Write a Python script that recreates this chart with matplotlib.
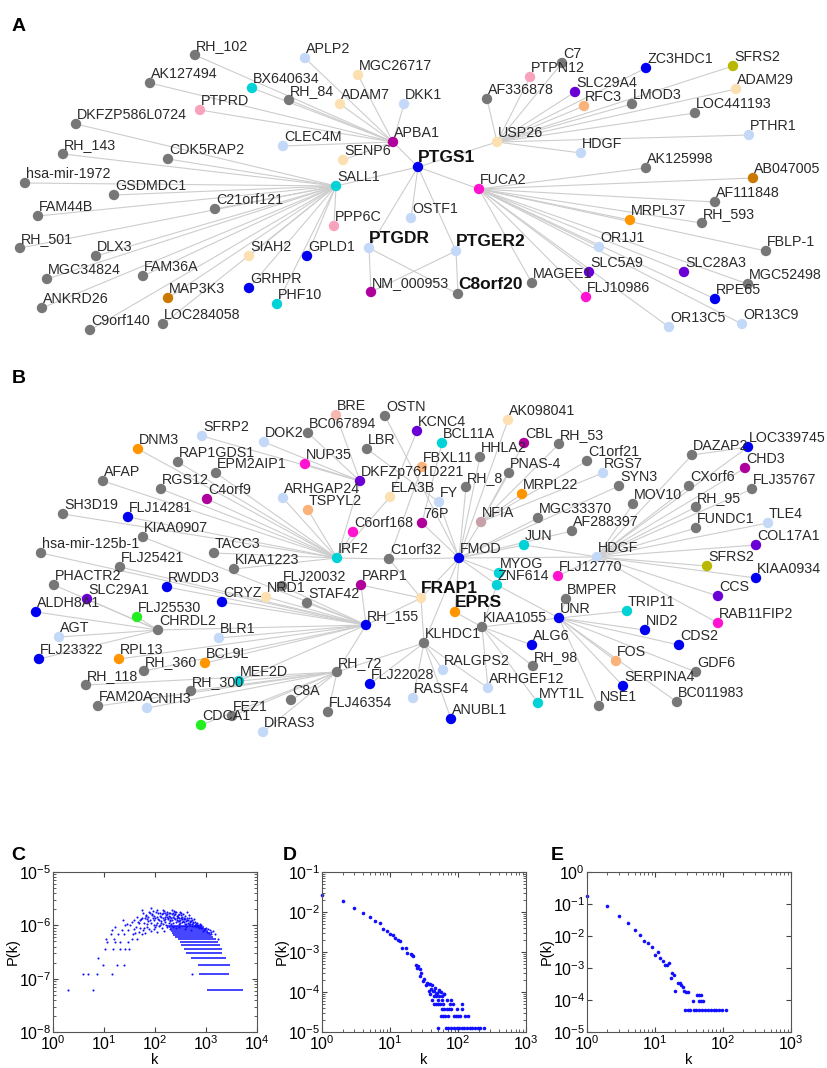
import numpy as np
import matplotlib.pyplot as plt
from matplotlib.collections import LineCollection
from matplotlib.ticker import LogLocator

plt.rcParams['font.family'] = ['Liberation Sans', 'DejaVu Sans']
plt.rcParams['mathtext.default'] = 'regular'

# ---- panel A network: node names, layout (pixel coords), colour class
a_names = ['RH_102', 'APLP2', 'MGC26717', 'AK127494', 'BX640634', 'RH_84', 'ADAM7', 'DKK1',
           'PTPRD', 'DKFZP586L0724', 'CLEC4M', 'APBA1', 'RH_143', 'CDK5RAP2', 'SENP6', 'PTGS1',
           'SALL1', 'hsa-mir-1972', 'GSDMDC1', 'C21orf121', 'FAM44B', 'PPP6C', 'OSTF1', 'PTGDR',
           'RH_501', 'DLX3', 'SIAH2', 'GPLD1', 'MGC34824', 'FAM36A', 'GRHPR', 'NM_000953',
           'MAP3K3', 'PHF10', 'ANKRD26', 'LOC284058', 'C9orf140', 'C7', 'PTPN12', 'ZC3HDC1',
           'SFRS2', 'SLC29A4', 'ADAM29', 'AF336878', 'RFC3', 'LMOD3', 'LOC441193', 'USP26',
           'PTHR1', 'HDGF', 'AK125998', 'AB047005', 'FUCA2', 'AF111848', 'MRPL37', 'RH_593',
           'PTGER2', 'OR1J1', 'FBLP-1', 'SLC5A9', 'MAGEE1', 'SLC28A3', 'MGC52498', 'C8orf20',
           'FLJ10986', 'RPE65', 'OR13C5', 'OR13C9']
a_x = [195, 305, 358, 150, 252, 289, 340, 404,
       200, 76, 283, 393, 63, 168, 343, 418,
       336, 25, 114, 215, 38, 334, 411, 369,
       20, 96, 249, 307, 47, 143, 249, 371,
       168, 277, 42, 163, 90, 562, 530, 646,
       733, 575, 736, 487, 584, 632, 695, 497,
       749, 581, 646, 753, 479, 715, 630, 702,
       456, 599, 766, 589, 532, 684, 748, 458,
       586, 715, 669, 742]
a_y = [55, 58, 75, 83, 88, 100, 104, 104,
       110, 124, 146, 142, 154, 159, 160, 167,
       186, 183, 195, 209, 216, 226, 218, 248,
       248, 256, 256, 256, 279, 276, 288, 292,
       298, 304, 308, 324, 330, 63, 77, 68,
       66, 92, 89, 99, 106, 104, 113, 142,
       135, 153, 168, 178, 189, 202, 220, 223,
       251, 247, 251, 272, 283, 272, 284, 294,
       297, 299, 327, 324]
a_col = ['g', 'lb', 'pe', 'g', 'cy', 'g', 'pe', 'lb',
         'pk', 'g', 'lb', 'dm', 'g', 'g', 'pe', 'bl',
         'cy', 'g', 'g', 'g', 'g', 'pk', 'lb', 'lb',
         'g', 'g', 'pe', 'bl', 'g', 'g', 'bl', 'dm',
         'br', 'cy', 'g', 'g', 'g', 'g', 'pk', 'bl',
         'ol', 'pu', 'pe', 'g', 'lo', 'g', 'g', 'pe',
         'lb', 'lb', 'g', 'br', 'mg', 'g', 'or', 'g',
         'lb', 'lb', 'g', 'pu', 'g', 'pu', 'g', 'g',
         'mg', 'bl', 'lb', 'lb']
a_bold = ['PTGS1', 'PTGDR', 'PTGER2', 'C8orf20']
a_links = {
    'SALL1': ['RH_143', 'DKFZP586L0724', 'CDK5RAP2', 'hsa-mir-1972', 'GSDMDC1', 'C21orf121',
              'FAM44B', 'RH_501', 'DLX3', 'MGC34824', 'FAM36A', 'ANKRD26', 'C9orf140', 'MAP3K3',
              'LOC284058', 'SIAH2', 'GRHPR', 'PHF10', 'GPLD1', 'PPP6C', 'PTGS1'],
    'APBA1': ['RH_102', 'AK127494', 'BX640634', 'PTPRD', 'RH_84', 'APLP2', 'ADAM7', 'MGC26717',
              'DKK1', 'CLEC4M', 'SENP6', 'PTGS1'],
    'PTGS1': ['USP26', 'FUCA2', 'OSTF1', 'PTGDR', 'PTGER2'],
    'PTGDR': ['NM_000953', 'C8orf20'],
    'PTGER2': ['NM_000953', 'C8orf20'],
    'USP26': ['AF336878', 'PTPN12', 'C7', 'SLC29A4', 'RFC3', 'ZC3HDC1', 'SFRS2', 'ADAM29',
              'LMOD3', 'LOC441193', 'PTHR1', 'HDGF'],
    'FUCA2': ['AK125998', 'AB047005', 'AF111848', 'MRPL37', 'RH_593', 'FBLP-1', 'OR1J1',
              'SLC5A9', 'MAGEE1', 'FLJ10986', 'SLC28A3', 'MGC52498', 'RPE65', 'OR13C5', 'OR13C9'],
}

# ---- panel B network
b_names = ['BRE', 'OSTN', 'SFRP2', 'DOK2', 'BC067894', 'DNM3', 'LBR', 'RAP1GDS1',
           'NUP35', 'EPM2AIP1', 'AFAP', 'DKFZp761D221', 'RGS12', 'C4orf9', 'ARHGAP24', 'ELA3B',
           'TSPYL2', 'SH3D19', 'FLJ14281', 'C6orf168', 'KIAA0907', 'TACC3', 'hsa-mir-125b-1', 'IRF2',
           'C1orf32', 'AK098041', 'KCNC4', 'BCL11A', 'CBL', 'RH_53', 'HHLA2', 'C1orf21',
           'FBXL11', 'PNAS-4', 'RGS7', 'RH_8', 'SYN3', 'MRPL22', 'FY', 'MOV10',
           'MGC33370', '76P', 'NFIA', 'AF288397', 'JUN', 'FMOD', 'HDGF', 'DAZAP2',
           'LOC339745', 'CHD3', 'CXorf6', 'FLJ35767', 'RH_95', 'FUNDC1', 'TLE4', 'COL17A1',
           'SFRS2', 'FLJ25421', 'KIAA1223', 'PHACTR2', 'RWDD3', 'PARP1', 'FLJ20032', 'NRD1',
           'CRYZ', 'SLC29A1', 'STAF42', 'ALDH8A1', 'FLJ25530', 'RH_155', 'CHRDL2', 'AGT',
           'BLR1', 'FLJ23322', 'RPL13', 'BCL9L', 'RH_360', 'RH_72', 'MEF2D', 'RH_300',
           'RH_118', 'FLJ22028', 'C8A', 'FAM20A', 'CNIH3', 'FLJ46354', 'FEZ1', 'CDCA1',
           'DIRAS3', 'MYOG', 'ZNF614', 'FLJ12770', 'FRAP1', 'EPRS', 'BMPER', 'TRIP11',
           'UNR', 'KIAA1055', 'NID2', 'RAB11FIP2', 'CCS', 'KIAA0934', 'KLHDC1', 'ALG6',
           'CDS2', 'RALGPS2', 'RH_98', 'FOS', 'GDF6', 'SERPINA4', 'ARHGEF12', 'RASSF4',
           'MYT1L', 'NSE1', 'BC011983', 'ANUBL1']
b_x = [336, 385, 202, 264, 308, 138, 367, 178,
       305, 216, 103, 360, 161, 207, 283, 390,
       308, 63, 128, 353, 143, 214, 41, 337,
       389, 508, 417, 442, 524, 559, 480, 587,
       422, 509, 603, 466, 619, 522, 439, 633,
       538, 422, 481, 572, 524, 459, 597, 692,
       748, 745, 689, 752, 696, 696, 768, 756,
       707, 120, 234, 54, 167, 361, 282, 266,
       222, 87, 307, 36, 137, 366, 158, 59,
       219, 39, 119, 205, 144, 337, 239, 191,
       86, 370, 291, 98, 147, 328, 232, 201,
       263, 499, 497, 558, 421, 455, 566, 627,
       559, 482, 645, 718, 718, 756, 424, 532,
       679, 443, 533, 616, 696, 623, 488, 413,
       538, 599, 677, 451]
b_y = [415, 416, 436, 442, 433, 449, 449, 462,
       464, 473, 481, 481, 489, 499, 498, 497,
       510, 514, 517, 532, 537, 553, 553, 558,
       559, 420, 431, 443, 443, 444, 457, 461,
       467, 473, 473, 487, 486, 494, 502, 504,
       518, 523, 522, 531, 545, 558, 557, 455,
       447, 468, 486, 489, 507, 528, 523, 545,
       566, 567, 569, 585, 587, 585, 586, 597,
       602, 599, 603, 612, 617, 625, 630, 637,
       638, 659, 659, 663, 671, 672, 681, 691,
       685, 684, 700, 706, 708, 712, 716, 725,
       732, 573, 585, 576, 598, 612, 599, 611,
       618, 627, 630, 623, 596, 578, 643, 645,
       645, 670, 666, 661, 672, 686, 688, 698,
       703, 706, 702, 719]
b_col = ['lp', 'g', 'lb', 'lb', 'g', 'or', 'g', 'g',
         'mg', 'g', 'g', 'pu', 'g', 'dm', 'lb', 'pe',
         'lo', 'g', 'bl', 'mg', 'g', 'g', 'g', 'cy',
         'g', 'pe', 'pu', 'cy', 'dm', 'g', 'g', 'g',
         'lo', 'g', 'lb', 'g', 'g', 'or', 'lb', 'g',
         'g', 'dm', 'mv', 'g', 'cy', 'bl', 'lb', 'g',
         'bl', 'dm', 'g', 'g', 'g', 'g', 'lb', 'pu',
         'ol', 'g', 'g', 'g', 'bl', 'dm', 'g', 'pe',
         'bl', 'pu', 'g', 'bl', 'gr', 'bl', 'g', 'lb',
         'lb', 'bl', 'or', 'or', 'g', 'g', 'cy', 'g',
         'g', 'bl', 'g', 'g', 'lb', 'g', 'g', 'gr',
         'lb', 'cy', 'cy', 'mg', 'pe', 'or', 'g', 'cy',
         'bl', 'g', 'bl', 'mg', 'pu', 'bl', 'g', 'bl',
         'bl', 'lb', 'g', 'lo', 'g', 'bl', 'lb', 'lb',
         'cy', 'g', 'g', 'bl']
b_bold = ['FRAP1', 'EPRS']
b_links = {
    'IRF2': ['DNM3', 'RAP1GDS1', 'EPM2AIP1', 'AFAP', 'RGS12', 'C4orf9', 'SH3D19', 'FLJ14281',
             'TACC3', 'KIAA1223', 'ARHGAP24', 'TSPYL2', 'ELA3B', 'DKFZp761D221', 'C6orf168',
             'C1orf32'],
    'DKFZp761D221': ['SFRP2', 'DOK2', 'NUP35', 'BRE', 'BC067894'],
    'ELA3B': ['KCNC4'],
    '76P': ['BCL11A', 'FMOD'],
    'FY': ['LBR', 'FMOD'],
    'FMOD': ['OSTN', 'RH_8', 'HHLA2', 'AK098041', 'NFIA', 'C1orf32', 'JUN', 'MGC33370',
             'AF288397', 'SYN3', 'HDGF', 'ZNF614', 'MYOG', 'EPRS', 'FRAP1', 'KLHDC1'],
    'NFIA': ['CBL', 'PNAS-4', 'MRPL22', 'RGS7', 'C1orf21', 'RH_53'],
    'C1orf32': ['FBXL11', 'FRAP1'],
    'HDGF': ['MOV10', 'DAZAP2', 'LOC339745', 'CHD3', 'CXorf6', 'FLJ35767', 'RH_95', 'FUNDC1',
             'TLE4', 'COL17A1', 'SFRS2', 'KIAA0934', 'CCS', 'RAB11FIP2', 'FLJ12770', 'JUN'],
    'DAZAP2': ['LOC339745'],
    'UNR': ['BMPER', 'TRIP11', 'NID2', 'CDS2', 'FOS', 'GDF6', 'SERPINA4', 'NSE1', 'BC011983',
            'ZNF614', 'KIAA1055'],
    'KIAA1055': ['EPRS', 'ALG6', 'RH_98', 'MYT1L', 'ARHGEF12', 'ZNF614'],
    'KLHDC1': ['FRAP1', 'RALGPS2', 'RASSF4', 'ANUBL1', 'ARHGEF12', 'FLJ22028'],
    'FRAP1': ['PARP1', 'RH_155'],
    'RH_155': ['PARP1', 'STAF42', 'NRD1', 'FLJ20032', 'CRYZ', 'RWDD3', 'FLJ25421', 'KIAA0907',
               'hsa-mir-125b-1', 'BLR1', 'BCL9L', 'RPL13', 'CHRDL2', 'MEF2D', 'RH_360', 'RH_72'],
    'CHRDL2': ['PHACTR2', 'SLC29A1', 'ALDH8A1', 'FLJ25530', 'AGT', 'FLJ23322'],
    'RH_72': ['RH_118', 'FAM20A', 'RH_300', 'CNIH3', 'C8A', 'FLJ46354', 'FEZ1', 'CDCA1',
              'DIRAS3', 'KLHDC1', 'MEF2D'],
}

# ---- panel C: degree distribution (banded tail = counts 1..16 of a unit probability)
c_unit = 6.1e-8
c_band_n = [1, 2, 3, 4, 5, 6, 7, 8, 9, 10, 11, 12, 13, 14, 15, 16]
c_band_kmin = [1050, 735, 710, 520, 415, 370, 330, 310, 285, 245, 228, 212, 205, 195, 185, 175]
c_band_kmax = [5300, 2840, 2900, 2500, 2100, 2100, 1860, 1730, 1600, 1380, 1280, 1190,
               1100, 1000, 900, 800]
c_k = [2.0, 6.0, 3.9, 4.8, 7.2, 14.5, 545, 9.8, 18.3, 25, 7.8, 10.7, 15.3, 21, 26, 31.5,
       11.7, 16.5, 20.6, 29, 11, 15.8, 35, 44, 13.6, 19, 24.7, 36.6, 55, 14.2, 22.3, 30,
       38, 59, 78, 16.5, 42.5, 68.7, 100, 25.8, 125, 28, 71, 141, 35, 49.5, 108, 190,
       24, 39, 50.8, 80, 121, 196, 308, 57, 63.6, 90, 156, 45, 74, 134, 169, 228, 285,
       347, 95, 246, 59, 80, 125, 156, 196, 331, 104, 174, 263, 308, 416, 55, 108, 141,
       212, 82, 300, 385, 385, 430, 484, 500, 545, 603, 650, 670, 760, 816, 906, 1000,
       1090, 1180, 1280, 1380, 1480, 1700,
       62, 66, 70, 76, 85, 88, 92, 98, 112, 115, 118, 130, 137, 145, 150, 160, 165, 180,
       185, 200, 205, 218, 222, 235, 240, 255, 270, 275, 290, 295, 320, 325, 340, 360,
       370, 395, 400, 410, 440, 455, 470, 520, 530, 560, 580, 620, 640, 700, 720, 780,
       850, 880, 950, 1050, 1150, 1250,
       48, 52, 65, 84, 95, 110, 135, 150, 175, 200, 230, 260, 290,
       102, 106, 116, 128, 132, 143, 148, 158, 163, 172, 178, 188, 194, 208, 215, 226,
       232, 244, 252, 266, 280, 288, 302, 315, 335, 352, 365, 378, 392, 405, 425, 445,
       462, 478, 495, 515, 540, 570, 595, 630, 665, 690, 740, 800,
       33, 40, 47, 53, 61, 67, 73, 87, 94]
c_p = [6.1e-8, 6.1e-8, 1.22e-7, 1.22e-7, 1.22e-7, 1.22e-7, 1.22e-7, 1.83e-7, 1.83e-7, 1.83e-7,
       2.44e-7, 3.66e-7, 3.66e-7, 3.66e-7, 3.66e-7, 3.66e-7,
       4.88e-7, 4.88e-7, 4.88e-7, 4.88e-7, 5.5e-7, 5.5e-7, 5.5e-7, 5.5e-7, 6.8e-7, 6.8e-7,
       6.8e-7, 6.8e-7, 6.8e-7, 8.1e-7, 8.1e-7, 8.1e-7,
       8.5e-7, 8.1e-7, 8.5e-7, 9.3e-7, 9.3e-7, 9.3e-7, 9.3e-7, 1.0e-6, 1.0e-6, 1.08e-6,
       1.08e-6, 1.08e-6, 1.15e-6, 1.1e-6, 1.1e-6, 1.1e-6,
       1.25e-6, 1.25e-6, 1.25e-6, 1.25e-6, 1.25e-6, 1.25e-6, 1.25e-6, 1.4e-6, 1.35e-6,
       1.35e-6, 1.3e-6, 1.45e-6, 1.45e-6, 1.45e-6, 1.45e-6, 1.45e-6, 1.45e-6,
       1.45e-6, 1.5e-6, 1.6e-6, 1.67e-6, 1.67e-6, 1.67e-6, 1.67e-6, 1.67e-6, 1.67e-6, 1.8e-6,
       1.8e-6, 1.8e-6, 1.8e-6, 1.8e-6, 1.94e-6, 1.94e-6, 1.94e-6,
       1.94e-6, 2.09e-6, 1.2e-6, 1.08e-6, 8.5e-7, 1.4e-6, 1.15e-6, 8.1e-7, 1.25e-6, 1.0e-6,
       9.3e-7, 1.1e-6, 9.3e-7, 1.0e-6, 8.1e-7, 9.0e-7,
       8.5e-7, 8.3e-7, 7.5e-7, 7.8e-7, 6.8e-7, 5.6e-7,
       1.1e-6, 1.55e-6, 1.3e-6, 1.75e-6, 1.1e-6, 1.55e-6, 1.85e-6, 1.25e-6, 1.45e-6, 1.7e-6,
       9.8e-7, 1.2e-6, 1.6e-6, 1.35e-6, 1.85e-6, 1.15e-6, 1.55e-6, 1.35e-6,
       1.7e-6, 1.45e-6, 1.05e-6, 1.25e-6, 1.7e-6, 1.35e-6, 1.85e-6, 1.15e-6, 1.5e-6, 1.25e-6,
       1.65e-6, 1.05e-6, 1.35e-6, 1.55e-6, 1.15e-6, 1.6e-6,
       1.3e-6, 1.5e-6, 1.2e-6, 9.5e-7, 1.25e-6, 1.55e-6, 1.05e-6, 1.4e-6, 9.6e-7, 1.15e-6,
       1.3e-6, 1.15e-6, 1.05e-6, 1.0e-6, 8.8e-7, 1.05e-6,
       9.0e-7, 7.8e-7, 8.6e-7, 7.6e-7, 7.2e-7, 6.9e-7,
       7.4e-7, 8.8e-7, 7.2e-7, 7.8e-7, 8.4e-7, 7.6e-7, 8.8e-7, 7.9e-7, 9.2e-7, 8.6e-7, 9.4e-7,
       8.9e-7, 9.4e-7,
       1.4e-6, 1.0e-6, 1.3e-6, 1.5e-6, 1.1e-6, 1.7e-6, 1.25e-6, 1.45e-6, 1.0e-6, 1.6e-6,
       1.3e-6, 1.5e-6, 1.2e-6, 1.35e-6, 1.6e-6, 1.1e-6,
       1.55e-6, 1.3e-6, 1.75e-6, 1.4e-6, 1.2e-6, 1.55e-6, 1.4e-6, 1.1e-6, 1.3e-6, 1.2e-6,
       1.4e-6, 1.15e-6, 1.3e-6, 1.05e-6, 1.25e-6, 1.1e-6,
       1.35e-6, 1.2e-6, 1.05e-6, 1.2e-6, 1.05e-6, 1.1e-6, 9.8e-7, 1.05e-6, 9.6e-7, 9.8e-7,
       9.2e-7, 9.0e-7,
       1.0e-6, 7.2e-7, 1.15e-6, 1.3e-6, 8.8e-7, 1.5e-6, 1.2e-6, 1.6e-6, 1.0e-6]

# ---- panel D
d_k = [1, 2, 3, 4, 5, 6, 7, 8, 9, 10, 11, 12, 13, 14, 15, 17, 18, 20, 21, 22,
       24, 25, 26, 28, 29, 28, 31, 32, 34, 35, 37, 39, 41, 40, 44, 46, 49, 47, 52, 56, 63]
d_p = [0.027, 0.0186, 0.0126, 0.0095, 0.0075, 0.0059, 0.0052, 0.0038, 0.0033, 0.0029,
       0.0026, 0.0022, 0.0020, 0.0019, 0.00126, 0.00126, 0.00095, 0.00087, 0.00082, 0.00079,
       0.00047, 0.00041, 0.00046, 0.00038, 0.00030, 0.00025, 0.00019, 0.00021, 0.000148,
       0.00017, 0.000155, 0.000160, 0.000150, 0.000118, 0.000105, 0.000125, 0.000093,
       0.000079, 0.000112, 0.000100, 0.000088]
d_unit = 1.29e-5
d_tail_k = [50, 66, 72, 79, 87, 95, 104, 114, 124, 136, 149, 163, 179, 195, 211, 241,
            57, 61, 65, 71, 86, 93, 100, 108, 127, 142,
            58, 62, 68, 74, 78, 98, 116,
            45, 47, 51, 55, 60, 76, 85, 114,
            41, 50, 58, 68, 80,
            44, 52, 59,
            39, 48, 62,
            37, 43, 53]
d_tail_n = [1] * 16 + [2] * 10 + [3] * 7 + [4] * 8 + [5] * 5 + [6] * 3 + [7] * 3 + [8] * 3

# ---- panel E
e_k = [1, 2, 3, 4, 5, 6, 7, 8, 9, 10, 11, 12, 13, 14, 15, 16, 18, 19, 17, 20,
       22, 23, 24, 26, 27, 29, 31, 41, 45, 48]
e_p = [0.172, 0.0837, 0.0436, 0.025, 0.0158, 0.0108, 0.0068, 0.0059, 0.0045, 0.0026,
       0.0031, 0.0020, 0.0017, 0.00126, 0.00126, 0.00144, 0.00069, 0.00062, 0.00048, 0.00019,
       0.00033, 0.00033, 0.00029, 0.00025, 0.000195, 0.00018, 0.00018, 0.000144, 0.000144,
       0.000144]
e_unit = 4.8e-5
e_tail_k = [28, 31, 33, 37, 40, 45, 49, 54, 60, 66, 73, 80, 87, 97, 112,
            36, 44, 47, 50]
e_tail_n = [1] * 15 + [2] * 4

palette = {'g': '#777777', 'lb': '#c4d8f8', 'pe': '#fde0b2', 'bl': '#0000f0',
           'cy': '#00d2d6', 'mg': '#ff12d0', 'dm': '#b0009c', 'pu': '#6a00d6',
           'pk': '#f8a2bc', 'or': '#ff9500', 'lo': '#f9b27a', 'br': '#c97800',
           'ol': '#b8b800', 'gr': '#22ee22', 'mv': '#c8a0a8', 'lp': '#f6b9b2'}


def draw_network(ax, names, xs, ys, cols, links, bold):
    pos = {n: (x, y) for n, x, y in zip(names, xs, ys)}
    segs = [[pos[h], pos[n]] for h, nbrs in links.items() for n in nbrs]
    ax.add_collection(LineCollection(segs, colors='#cdcdcd', linewidths=0.8, zorder=1))
    ax.scatter(xs, ys, s=56, c=[palette[c] for c in cols], edgecolors='none', zorder=2)
    for n, x, y in zip(names, xs, ys):
        if n in bold:
            ax.text(x, y - 5, n, fontsize=12.5, fontweight='bold', color='#111111', zorder=3)
        else:
            ax.text(x + 1, y - 5, n, fontsize=10.3, color='#2a2a2a', zorder=3)


def loglog_panel(rect, xlim, ylim):
    ax = fig.add_axes(rect)
    ax.set_xscale('log')
    ax.set_yscale('log')
    ax.set_xlim(xlim)
    ax.set_ylim(ylim)
    ax.xaxis.set_major_locator(LogLocator(base=10, numticks=12))
    ax.yaxis.set_major_locator(LogLocator(base=10, numticks=12))
    ax.tick_params(which='both', direction='in', top=True, right=True, labelsize=11.5,
                   color='#444444', pad=1.5)
    ax.tick_params(which='major', length=3.5)
    ax.tick_params(which='minor', length=2)
    ax.set_xlabel('k', fontsize=10.5, labelpad=0)
    ax.set_ylabel('P(k)', fontsize=10.5, labelpad=-1)
    for sp in ax.spines.values():
        sp.set_color('#555555')
        sp.set_linewidth(0.8)
    return ax


fig = plt.figure(figsize=(8.27, 10.68), dpi=100)
net = fig.add_axes([0, 0, 1, 1])
net.set_xlim(0, 827)
net.set_ylim(1068, 0)
net.axis('off')

draw_network(net, a_names, a_x, a_y, a_col, a_links, a_bold)
draw_network(net, b_names, b_x, b_y, b_col, b_links, b_bold)

for letter, lx, ly in [('A', 12, 31), ('B', 12, 383), ('C', 11, 860), ('D', 283, 860), ('E', 551, 860)]:
    net.text(lx, ly, letter, fontsize=14, fontweight='bold', color='black')

blue = '#1010ff'
axc = loglog_panel([0.064, 0.0337, 0.2467, 0.1498], (1, 1e4), (1e-8, 1e-5))
axc.hlines(np.array(c_band_n) * c_unit, c_band_kmin, c_band_kmax, colors=blue, lw=1.1)
axc.plot(c_k, c_p, 'o', ms=1.5, color=blue, mec='none')

axd = loglog_panel([0.3894, 0.0337, 0.2467, 0.1498], (1, 1e3), (1e-5, 1e-1))
axd.plot(d_k, d_p, 'o', ms=2.6, color=blue, mec='none', clip_on=False)
axd.plot(d_tail_k, np.array(d_tail_n) * d_unit, 'o', ms=2.6, color=blue, mec='none')

axe = loglog_panel([0.7098, 0.0337, 0.2467, 0.1498], (1, 1e3), (1e-5, 1))
axe.plot(e_k, e_p, 'o', ms=2.6, color=blue, mec='none', clip_on=False)
axe.plot(e_tail_k, np.array(e_tail_n) * e_unit, 'o', ms=2.6, color=blue, mec='none')

fig.savefig('out.png', dpi=100)
